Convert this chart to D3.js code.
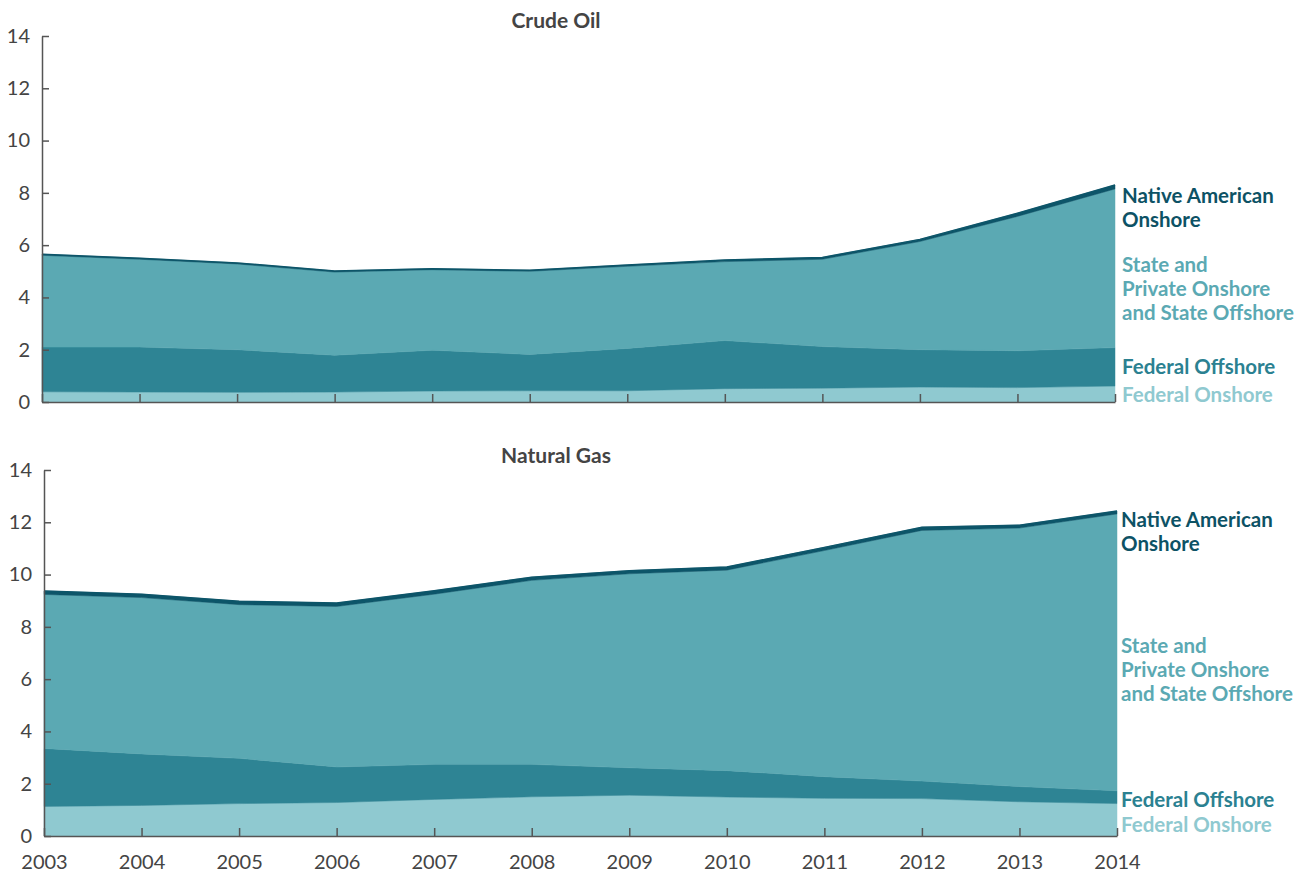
<!DOCTYPE html>
<html>
<head>
<meta charset="utf-8">
<script src="https://cdn.jsdelivr.net/npm/d3@7"></script>
<style>
  html, body { margin: 0; padding: 0; background: #fff; }
  svg { display: block; font-family: Lato, "Open Sans", sans-serif; }
</style>
</head>
<body>
<svg id="chart" width="1302" height="875"></svg>
<script>
// ---- Data ----
const years = [2003, 2004, 2005, 2006, 2007, 2008, 2009, 2010, 2011, 2012, 2013, 2014];
const seriesKeys = ["Federal Onshore", "Federal Offshore", "State and Private Onshore and State Offshore", "Native American Onshore"];

// Crude Oil
const oilFederalOnshore  = [0.39, 0.38, 0.37, 0.38, 0.42, 0.43, 0.43, 0.51, 0.53, 0.57, 0.55, 0.61];
const oilFederalOffshore = [1.71, 1.72, 1.63, 1.41, 1.56, 1.39, 1.62, 1.84, 1.59, 1.43, 1.41, 1.47];
const oilStatePrivate    = [3.51, 3.36, 3.28, 3.18, 3.08, 3.18, 3.14, 3.02, 3.34, 4.14, 5.14, 6.07];
const oilNativeAmerican  = [0.04, 0.04, 0.04, 0.04, 0.04, 0.04, 0.05, 0.06, 0.07, 0.08, 0.12, 0.15];

// Natural Gas
const gasFederalOnshore  = [1.13, 1.17, 1.24, 1.28, 1.40, 1.50, 1.56, 1.49, 1.44, 1.43, 1.31, 1.24];
const gasFederalOffshore = [2.22, 1.97, 1.73, 1.36, 1.34, 1.24, 1.05, 1.01, 0.83, 0.67, 0.58, 0.49];
const gasStatePrivate    = [5.89, 5.98, 5.88, 6.14, 6.51, 7.04, 7.42, 7.67, 8.65, 9.59, 9.89, 10.59];
const gasNativeAmerican  = [0.13, 0.13, 0.13, 0.13, 0.13, 0.12, 0.12, 0.12, 0.12, 0.12, 0.11, 0.11];

const yTicks = [0, 2, 4, 6, 8, 10, 12, 14];
const panelTitles = ["Crude Oil", "Natural Gas"];

// ---- Styles ----
const fillColors = ["#8fc9d0", "#2e8494", "#5ba9b3", "#0d5569"];
const labelColors = ["#8fc9d0", "#2b8191", "#5ba9b3", "#0d5265"];
const axisColor = "#555";
const textColor = "#444";

function toRows(a, b, c, d) {
  return years.map((y, i) => ({
    year: y,
    [seriesKeys[0]]: a[i], [seriesKeys[1]]: b[i], [seriesKeys[2]]: c[i], [seriesKeys[3]]: d[i]
  }));
}

const panels = [
  { title: panelTitles[0], rows: toRows(oilFederalOnshore, oilFederalOffshore, oilStatePrivate, oilNativeAmerican),
    x0: 42, x1: 1115, yTop: 36, yBot: 402, titleY: 28, showXLabels: false,
    labels: [
      { key: 0, lines: ["Federal Onshore"], y: 402 },
      { key: 1, lines: ["Federal Offshore"], y: 374 },
      { key: 2, lines: ["State and", "Private Onshore", "and State Offshore"], y: 272 },
      { key: 3, lines: ["Native American", "Onshore"], y: 203 }
    ], labelX: 1122 },
  { title: panelTitles[1], rows: toRows(gasFederalOnshore, gasFederalOffshore, gasStatePrivate, gasNativeAmerican),
    x0: 44, x1: 1117, yTop: 470, yBot: 836, titleY: 463, showXLabels: true,
    labels: [
      { key: 0, lines: ["Federal Onshore"], y: 832 },
      { key: 1, lines: ["Federal Offshore"], y: 807 },
      { key: 2, lines: ["State and", "Private Onshore", "and State Offshore"], y: 653 },
      { key: 3, lines: ["Native American", "Onshore"], y: 527 }
    ], labelX: 1121 }
];

const svg = d3.select("#chart");
const stack = d3.stack().keys(seriesKeys);

panels.forEach(p => {
  const x = d3.scaleLinear().domain([years[0], years[years.length - 1]]).range([p.x0, p.x1]);
  const y = d3.scaleLinear().domain([0, 14]).range([p.yBot, p.yTop]);
  const g = svg.append("g");

  const stacked = stack(p.rows);
  const area = d3.area()
    .x(d => x(d.data.year))
    .y0(d => y(d[0]))
    .y1(d => y(d[1]));

  g.selectAll("path.layer").data(stacked).join("path")
    .attr("class", "layer")
    .attr("d", area)
    .attr("fill", (d, i) => fillColors[i])
    .attr("stroke", (d, i) => fillColors[i])
    .attr("stroke-width", 0.5);

  // top line of native american
  const topLine = d3.line().x(d => x(d.data.year)).y(d => y(d[1]));
  g.append("path").datum(stacked[3]).attr("d", topLine)
    .attr("fill", "none").attr("stroke", fillColors[3]).attr("stroke-width", 1.5);

  // y axis
  const yAxis = d3.axisLeft(y).tickValues(yTicks).tickSizeInner(-7).tickSizeOuter(0).tickPadding(12);
  const ya = g.append("g").attr("transform", `translate(${p.x0},0)`).call(yAxis);
  ya.select(".domain").attr("stroke", axisColor).attr("stroke-width", 1.5);
  ya.selectAll(".tick line").attr("stroke", axisColor).attr("stroke-width", 1.5);
  ya.selectAll(".tick text").attr("fill", textColor).style("font-size", "20px")
    .style("font-family", "Lato, sans-serif");

  // x axis
  const xAxis = d3.axisBottom(x).tickValues(years).tickFormat(d3.format("d"))
    .tickSizeInner(-8).tickSizeOuter(0).tickPadding(19);
  const xa = g.append("g").attr("transform", `translate(0,${p.yBot})`).call(xAxis);
  xa.select(".domain").attr("stroke", axisColor).attr("stroke-width", 1.5);
  xa.selectAll(".tick line").attr("stroke", axisColor).attr("stroke-width", 1.5);
  xa.selectAll(".tick text").attr("fill", textColor).style("font-size", "20px")
    .style("font-family", "Lato, sans-serif")
    .style("display", p.showXLabels ? null : "none");

  // title
  g.append("text").attr("x", 556).attr("y", p.titleY)
    .attr("text-anchor", "middle").attr("fill", textColor)
    .style("font-size", "21px").style("font-weight", "bold")
    .text(p.title);

  // labels
  p.labels.forEach(l => {
    const t = g.append("text").attr("x", p.labelX).attr("y", l.y)
      .attr("fill", labelColors[l.key])
      .style("font-size", "20.5px").style("font-weight", "bold");
    l.lines.forEach((ln, i) => {
      t.append("tspan").attr("x", p.labelX).attr("dy", i === 0 ? 0 : 24).text(ln);
    });
  });
});
</script>
</body>
</html>
